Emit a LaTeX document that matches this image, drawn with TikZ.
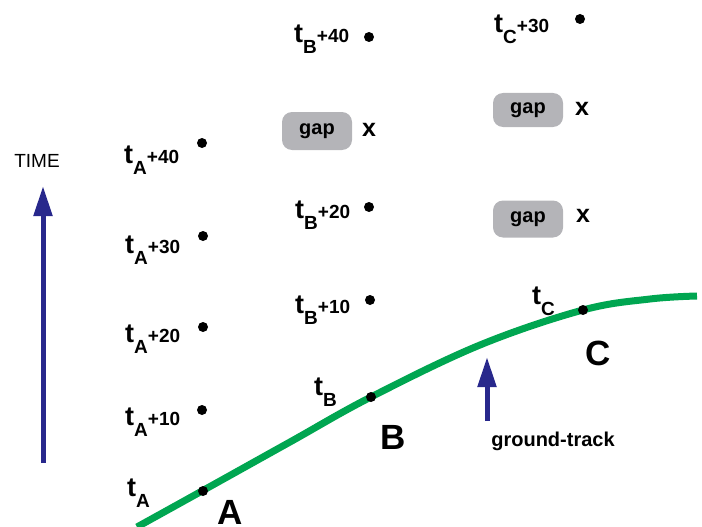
\documentclass[tikz,border=0pt]{standalone}
\usepackage{fontspec}
\setmainfont{Liberation Sans}
\usetikzlibrary{arrows.meta}
\definecolor{tblue}{RGB}{40,40,140}
\definecolor{tgreen}{RGB}{0,166,81}
\definecolor{tgray}{RGB}{180,180,184}
\newcommand\tlab[2]{\fontsize{27}{27}\selectfont t\raisebox{-11pt}{\fontsize{19}{19}\selectfont #1}\fontsize{19}{19}\selectfont #2}
\tikzset{
  lab/.style={font=\bfseries, inner sep=0pt, anchor=base west},
  dot/.style={circle, fill=black, inner sep=0pt, minimum size=10pt},
  gapbox/.style={rounded corners=10pt, fill=tgray, minimum width=70pt, minimum height=38pt, font=\bfseries\fontsize{20}{20}\selectfont, inner sep=0pt},
  xlab/.style={font=\bfseries\fontsize{25}{25}\selectfont, inner sep=0pt},
  big/.style={font=\bfseries\fontsize{35}{35}\selectfont, inner sep=0pt},
  uparrow/.style={draw=tblue, line width=5pt, -{Triangle[length=30pt,width=18pt]}}
}
\begin{document}
\begin{tikzpicture}[x=1pt,y=-1pt]
\useasboundingbox (0,0) rectangle (702,527);
% time arrow
\node[font=\fontsize{19}{19}\selectfont, inner sep=0pt] (time) at (37,161) {TIME};
\coordinate (ts) at (43,463);
\coordinate (te) at (43,186);
\draw[uparrow] (ts) -- (te);
% ground track
\draw[tgreen, line width=7pt] plot[smooth, tension=0.6] coordinates {(137,527) (202,491) (290,442) (371,397) (480,345) (583,310) (650,299) (697,296)};
% column A
\node[dot] (a40) at (202,143) {};
\node[dot] (a30) at (203,236) {};
\node[dot] (a20) at (203,327) {};
\node[dot] (a10) at (202,410) {};
\node[dot] (a0) at (203,491) {};
\node[lab] (la40) at (124,163) {\tlab{A}{+40}};
\node[lab] (la30) at (125,253) {\tlab{A}{+30}};
\node[lab] (la20) at (125,342) {\tlab{A}{+20}};
\node[lab] (la10) at (125,425) {\tlab{A}{+10}};
\node[lab] (la0) at (127,496) {\tlab{A}{}};
\node[big] (A) at (230,512) {A};
% column B
\node[dot] (b40) at (369,37) {};
\node[dot] (b20) at (369,207) {};
\node[dot] (b10) at (370,300) {};
\node[dot] (b0) at (371,397) {};
\node[lab] (lb40) at (294,43) {\tlab{B}{+40}};
\node[lab] (lb20) at (295,218) {\tlab{B}{+20}};
\node[lab] (lb10) at (295,313) {\tlab{B}{+10}};
\node[lab] (lb0) at (314,395) {\tlab{B}{}};
\node[gapbox] (g1) at (317,131) {gap};
\node[xlab] (x1) at (369,130) {x};
\node[big] (B) at (393,437) {B};
% column C
\node[dot] (c30) at (580,19) {};
\node[lab] (lc30) at (494,33) {\tlab{C}{+30}};
\node[gapbox, minimum height=34pt] (g2) at (528,110) {gap};
\node[xlab] (x2) at (582,109) {x};
\node[gapbox, minimum height=37pt] (g3) at (528,219) {gap};
\node[xlab] (x3) at (583,216) {x};
\node[dot] (c0) at (583,310) {};
\node[lab] (lc0) at (532,304) {\tlab{C}{}};
\node[big] (C) at (598,353) {C};
% ground-track arrow
\coordinate (gs) at (487,421);
\coordinate (ge) at (487,357);
\draw[uparrow] (gs) -- (ge);
\node[font=\bfseries\fontsize{20}{20}\selectfont, inner sep=0pt] (gt) at (553,441) {ground-track};
\end{tikzpicture}
\end{document}
